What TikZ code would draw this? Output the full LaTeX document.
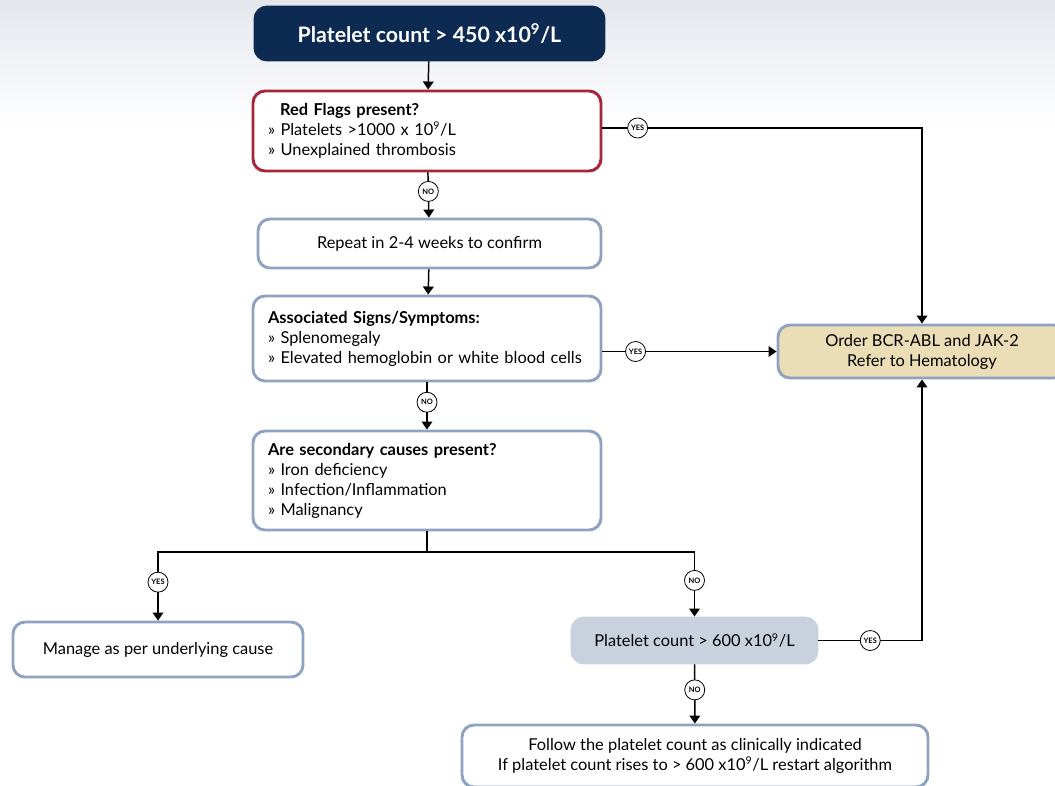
\documentclass[tikz,border=0pt]{standalone}
\usepackage{fontspec}
\setmainfont{Lato}
\usetikzlibrary{arrows.meta,positioning,calc}
\definecolor{navy}{HTML}{0D2B52}
\definecolor{flagred}{HTML}{A6253A}
\definecolor{steel}{HTML}{8FA3C1}
\definecolor{tan}{HTML}{EBDDB6}
\definecolor{greyfill}{HTML}{C9D1DE}
\definecolor{haze}{HTML}{E3E7ED}
\newcommand{\pw}{\textsuperscript{\footnotesize 9}}
\tikzset{
  x=0.75pt, y=-0.75pt,
  basebox/.style={rounded corners=9pt, line width=2.2pt, inner ysep=0pt,
    font=\fontsize{12.3}{15}\selectfont},
  headbox/.style={basebox, fill=navy, draw=navy, text=white,
    font=\fontsize{16}{19}\selectfont\bfseries},
  listbox/.style={basebox, draw=steel, fill=white, align=left, inner xsep=11pt},
  flagbox/.style={listbox, draw=flagred},
  plainbox/.style={basebox, draw=steel, fill=white, align=center},
  referbox/.style={plainbox, fill=tan},
  testbox/.style={basebox, fill=greyfill, draw=greyfill, align=center},
  arr/.style={line width=1.1pt, -{Triangle[width=8pt,length=6pt]}},
  link/.style={line width=1.1pt},
  circ/.style={circle, draw, line width=0.6pt, fill=white, inner sep=0pt,
    minimum size=15pt, font=\fontsize{5.6}{5.6}\selectfont\bfseries},
}
\begin{document}
\begin{tikzpicture}
\useasboundingbox (0,0) rectangle (1055,785);
\clip (0,0) rectangle (1055,785);
% soft grey band at the top
\shade[top color=haze, bottom color=white] (0,0) rectangle (1055,125);

\node[headbox, minimum width=349*0.75pt, minimum height=53*0.75pt] (top) at (429.5,33.5)
  {Platelet count > 450 x10\textsuperscript{9}/L};

\node[flagbox, minimum width=348*0.75pt, minimum height=80*0.75pt,
  text width=(348-30)*0.75pt] (flags) at (427,131)
  {\hspace*{9pt}\textbf{Red Flags present?}\\
   » Platelets >1000 x 10\pw/L\\
   » Unexplained thrombosis};

\node[plainbox, minimum width=343*0.75pt, minimum height=49*0.75pt] (repeat) at (429.5,243.5)
  {Repeat in 2-4 weeks to confirm};

\node[listbox, minimum width=348*0.75pt, minimum height=85*0.75pt,
  text width=(348-30)*0.75pt] (signs) at (427,338.5)
  {\textbf{Associated Signs/Symptoms:}\\
   » Splenomegaly\\
   » Elevated hemoglobin or white blood cells};

\node[listbox, minimum width=348*0.75pt, minimum height=99*0.75pt,
  text width=(348-30)*0.75pt] (secondary) at (427,480.5)
  {\textbf{Are secondary causes present?}\\
   » Iron deficiency\\
   » Infection/Inflammation\\
   » Malignancy};

\node[referbox, minimum width=288*0.75pt, minimum height=53*0.75pt] (refer) at (922,351.5)
  {Order BCR-ABL and JAK-2\\Refer to Hematology};

\node[plainbox, minimum width=290*0.75pt, minimum height=55*0.75pt] (manage) at (158,649.5)
  {Manage as per underlying cause};

\node[testbox, minimum width=245*0.75pt, minimum height=45*0.75pt] (high) at (694.5,640.5)
  {Platelet count > 600 x10\pw/L};

\node[plainbox, minimum width=466*0.75pt, minimum height=62*0.75pt] (follow) at (695,756)
  {Follow the platelet count as clinically indicated\\
   If platelet count rises to > 600 x10\pw/L restart algorithm};

% main column
\draw[arr] (top) -- (flags);
\draw[arr] (flags) -- node[circ, pos=0.42] (noA) {NO} (repeat);
\draw[arr] (repeat) -- (signs);
\draw[arr] (signs) -- node[circ, pos=0.42] (noB) {NO} (secondary);

% branch below the secondary causes
\coordinate (split) at (secondary.south |- 0,552);
\draw[link] (secondary) -- (split);
\draw[arr] (split) -| node[circ, pos=0.72] (yesC) {YES} (manage);
\draw[arr] (split) -| node[circ, pos=0.72] (noC) {NO} (high);
\draw[arr] (high) -- node[circ, pos=0.43] (noD) {NO} (follow);

% routes to hematology
\draw[arr] (flags.east |- 0,128) -| node[circ, pos=0.055] (yesA) {YES} (refer.north);
\draw[arr] (signs.east |- refer.west) -- node[circ, pos=0.19] (yesB) {YES} (refer.west);
\draw[arr] (high.east) -| node[circ, pos=0.25] (yesD) {YES} (refer.south);
\end{tikzpicture}
\end{document}
